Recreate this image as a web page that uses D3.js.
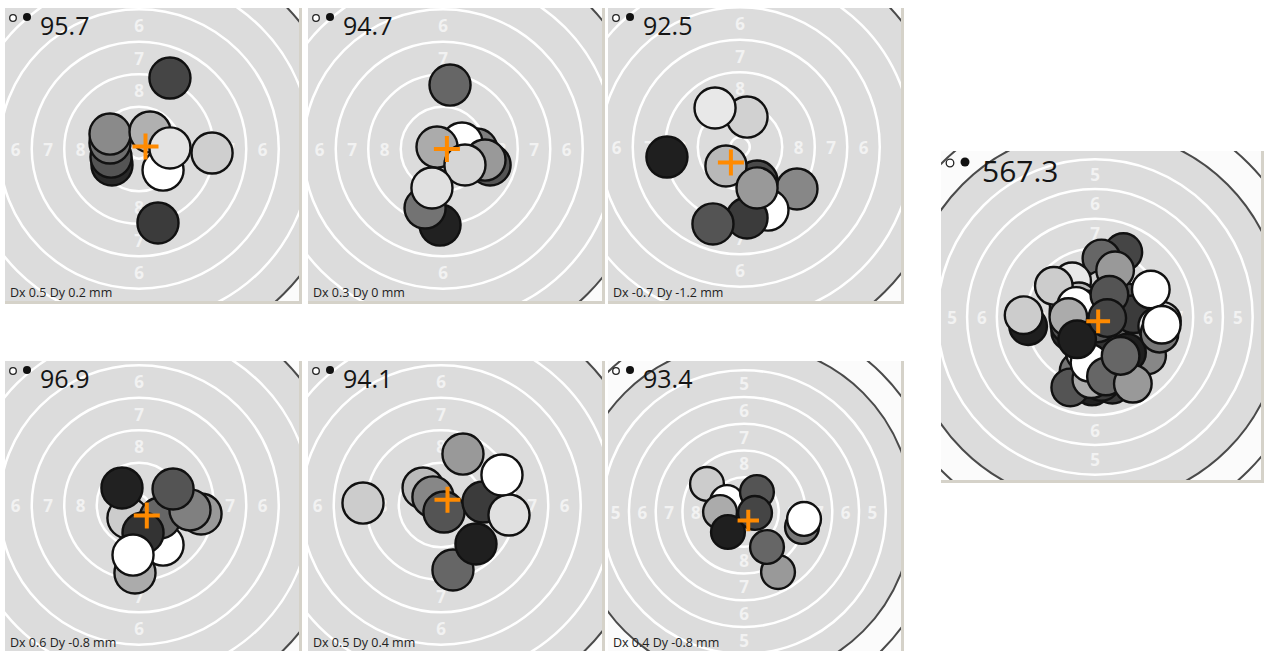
<!DOCTYPE html>
<html>
<head>
<meta charset="utf-8">
<script src="https://cdn.jsdelivr.net/npm/d3@7"></script>
<style>
  body { margin: 0; background: #fff; }
  svg { display: block; font-family: "Open Sans", sans-serif; }
</style>
</head>
<body>
<svg id="chart" width="1264" height="651"></svg>
<script>
// series results
const scores = ["95.7", "94.7", "92.5", "96.9", "94.1", "93.4"];
const totalScore = "567.3";
const dxMm = [0.5, 0.3, -0.7, 0.6, 0.5, 0.4];
const dyMm = [0.2, 0, -1.2, -0.8, 0.4, -0.8];
const ringLabels = [4, 5, 6, 7, 8];

// shots: [x mm, y mm (up is +), tone 0 = black .. 1 = white], in drawing order
const shots1 = [
  [2.38, 5.46, 0.27], [-2.08, -1.23, 0.16], [-2.15, -0.62, 0.33], [-2.23, 0.46, 0.43],
  [-2.23, 1.15, 0.54], [0.85, 1.31, 0.69], [1.85, -1.62, 1.0], [2.38, 0.08, 0.89],
  [5.62, -0.31, 0.81], [1.46, -5.69, 0.23]
];
const shots2 = [
  [2.6, 0.0, 0.5], [1.46, 0.46, 1.0], [3.62, -1.23, 0.33], [3.23, -0.85, 0.6],
  [-0.46, 0.15, 0.67], [1.69, -1.23, 0.84], [0.54, 4.92, 0.4], [-0.23, -5.85, 0.13],
  [-1.38, -4.54, 0.45], [-0.85, -3.0, 0.88]
];
const shots3 = [
  [0.54, 2.3, 0.82], [-1.92, 3.0, 0.91], [-5.62, -0.77, 0.12], [4.38, -3.23, 0.53],
  [1.31, -2.62, 0.29], [2.15, -4.85, 1.0], [0.54, -5.46, 0.23], [-2.08, -5.92, 0.33],
  [-1.08, -1.46, 0.72], [1.31, -3.15, 0.6]
];
const shots4 = [
  [-0.85, -1.0, 0.8], [1.85, -3.08, 1.0], [1.62, -1.0, 0.4], [0.31, -2.15, 0.2],
  [-0.31, -5.23, 0.67], [-0.46, -3.85, 1.0], [-1.31, 1.31, 0.13], [4.77, -0.69, 0.6],
  [3.92, -0.38, 0.5], [2.62, 1.23, 0.33]
];
const shots5 = [
  [-1.38, 1.31, 0.73], [-0.62, 0.62, 0.53], [0.23, -0.54, 0.33], [3.23, 0.23, 0.23],
  [5.23, -0.77, 0.88], [4.69, 2.31, 1.0], [-6.0, 0.15, 0.8], [1.69, 3.92, 0.6],
  [0.92, -5.0, 0.4], [2.69, -3.0, 0.12]
];
const shots6 = [
  [5.42, -1.4, 0.47], [5.61, -0.65, 1.0], [-3.46, 2.62, 0.8], [-1.59, 0.93, 1.0],
  [-2.24, 0, 0.67], [-1.5, -1.87, 0.12], [1.21, 1.87, 0.33], [1.03, -0.09, 0.27],
  [3.18, -5.61, 0.6], [2.15, -3.27, 0.4]
];
const allShots = [shots1, shots2, shots3, shots4, shots5, shots6];

// panel boxes (page px), target centre, px per mm, baseline of the offset note
const layout = [
  { x: 5,   y: 8,   w: 297, h: 296, cx: 139,  cy: 149, k: 13,   noteY: 289 },
  { x: 308, y: 8,   w: 297, h: 296, cx: 443,  cy: 149, k: 13,   noteY: 289 },
  { x: 608, y: 8,   w: 296, h: 296, cx: 740,  cy: 147, k: 13,   noteY: 289 },
  { x: 5,   y: 361, w: 297, h: 296, cx: 139,  cy: 505, k: 13,   noteY: 286 },
  { x: 308, y: 361, w: 297, h: 296, cx: 441,  cy: 505, k: 13,   noteY: 286 },
  { x: 608, y: 361, w: 296, h: 296, cx: 744,  cy: 512, k: 10.7, noteY: 286 },
  { x: 941, y: 151, w: 323, h: 332, cx: 1095, cy: 317, k: 11.9 }
];

// target geometry (mm)
const ringRadius = n => 0.75 + 2.5 * (10 - n);
const blackRing = 4;
const shotRadius = 1.58;

const tone = d3.scaleLinear().domain([0, 1]).range(["#000", "#fff"]);
const svg = d3.select("#chart");

function drawPanel(i, box, shots, score, dx, dy) {
  const g = svg.append("g").attr("transform", `translate(${box.x},${box.y})`);
  const x = d3.scaleLinear().domain([0, 1]).range([box.cx - box.x, box.cx - box.x + box.k]);
  const y = d3.scaleLinear().domain([0, 1]).range([box.cy - box.y, box.cy - box.y - box.k]);
  const r = d3.scaleLinear().domain([0, 1]).range([0, box.k]);
  const iw = box.w - 3, ih = box.h - 3;

  // frame
  g.append("rect").attr("width", box.w).attr("height", box.h).attr("fill", "#d5d2c9");
  g.append("clipPath").attr("id", "clip" + i)
    .append("rect").attr("width", iw).attr("height", ih);
  const c = g.append("g").attr("clip-path", `url(#clip${i})`);
  c.append("rect").attr("width", iw).attr("height", ih).attr("fill", "#fbfbfb");

  // outer rings on white
  c.selectAll(".outer")
    .data(d3.range(1, blackRing))
    .enter()
    .append("circle")
    .attr("cx", x(0)).attr("cy", y(0))
    .attr("r", d => r(ringRadius(d)))
    .attr("fill", "none").attr("stroke", "#4a4a4a").attr("stroke-width", 2);

  // aiming area
  c.append("circle")
    .attr("cx", x(0)).attr("cy", y(0))
    .attr("r", r(ringRadius(blackRing)))
    .attr("fill", "#dcdcdc").attr("stroke", "#4a4a4a").attr("stroke-width", 2);

  c.selectAll(".inner")
    .data(d3.range(blackRing + 1, 11))
    .enter()
    .append("circle")
    .attr("cx", x(0)).attr("cy", y(0))
    .attr("r", d => r(ringRadius(d)))
    .attr("fill", "none").attr("stroke", "#fff").attr("stroke-width", 2.5);

  // ring numbers on four sides, only where they fit in the view
  const dirs = [[1, 0], [-1, 0], [0, 1], [0, -1]];
  const labels = [];
  ringLabels.forEach(n => dirs.forEach(dd => {
    const m = (ringRadius(n) + ringRadius(n + 1)) / 2;
    const px = x(dd[0] * m), py = y(dd[1] * m);
    if (px > 6 && px < iw - 6 && py > 6 && py < ih - 6) labels.push({ n, px, py });
  }));
  c.selectAll(".num")
    .data(labels)
    .enter()
    .append("text")
    .attr("x", d => d.px)
    .attr("y", d => d.py)
    .attr("text-anchor", "middle")
    .attr("dominant-baseline", "central")
    .attr("font-size", 17)
    .attr("font-weight", 700)
    .attr("fill", "#f2f2f2")
    .text(d => d.n);

  // shots
  c.selectAll(".shot")
    .data(shots)
    .enter()
    .append("circle")
    .attr("cx", d => x(d[0]))
    .attr("cy", d => y(d[1]))
    .attr("r", r(shotRadius))
    .attr("fill", d => tone(d[2]))
    .attr("stroke", "#111")
    .attr("stroke-width", 2.4);

  // mean point of impact
  const arm = 1;
  c.append("path")
    .attr("d", `M${x(dx - arm)},${y(dy)}H${x(dx + arm)}M${x(dx)},${y(dy - arm)}V${y(dy + arm)}`)
    .attr("stroke", "#ff8a00").attr("stroke-width", 4).attr("fill", "none");

  // header
  const big = i === 6;
  g.append("circle").attr("cx", big ? 9 : 8).attr("cy", big ? 12 : 10).attr("r", big ? 3.8 : 3.3)
    .attr("fill", "#fff").attr("stroke", "#222").attr("stroke-width", 1.3);
  g.append("circle").attr("cx", big ? 24 : 22).attr("cy", big ? 11 : 9).attr("r", big ? 4.5 : 4)
    .attr("fill", "#111");
  g.append("text")
    .attr("x", big ? 41 : 35).attr("y", big ? 31 : 27)
    .attr("font-size", big ? 30 : 25)
    .attr("fill", "#141414")
    .text(score);

  if (!big) {
    g.append("text")
      .attr("x", 5).attr("y", box.noteY)
      .attr("font-size", 12.5)
      .attr("fill", "#222")
      .text(`Dx ${dx} Dy ${dy} mm`);
  }
}

allShots.forEach((s, i) => drawPanel(i, layout[i], s, scores[i], dxMm[i], dyMm[i]));
drawPanel(6, layout[6], allShots.flat(), totalScore, d3.mean(dxMm), d3.mean(dyMm));
</script>
</body>
</html>
